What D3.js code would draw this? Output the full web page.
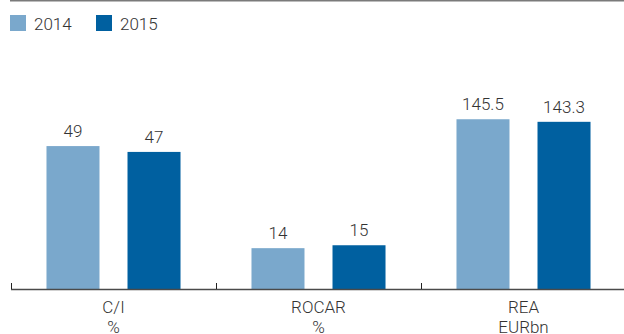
<!DOCTYPE html>
<html>
<head>
<meta charset="utf-8">
<script src="https://cdn.jsdelivr.net/npm/d3@7/dist/d3.min.js"></script>
<style>
html,body{margin:0;padding:0;background:#fff;}
svg{display:block;}
text{font-family:Roboto,"Open Sans",Arial,sans-serif;font-weight:300;fill:#333;}
</style>
</head>
<body>
<svg id="chart" width="624" height="334"></svg>
<script>
const categories = ["C/I", "ROCAR", "REA"];
const units = ["%", "%", "EURbn"];
const years = ["2014", "2015"];
const values2014 = [49, 14, 145.5];
const values2015 = [47, 15, 143.3];
const labels2014 = ["49", "14", "145.5"];
const labels2015 = ["47", "15", "143.3"];
const colors = ["#7aa8cc", "#0060a0"];

const svg = d3.select("#chart");
const W = 624, H = 334;
const baseY = 289, topY = 114;

const x0 = d3.scaleBand().domain(categories).range([11, 626]).paddingInner(0).paddingOuter(0);
const x1 = d3.scaleBand().domain(years).range([0, x0.bandwidth()]).paddingInner(28/81).paddingOuter(0.438);
const yPct = d3.scaleLinear().domain([0, 60]).range([baseY, topY]);
const yBn = d3.scaleLinear().domain([0, 150]).range([baseY, topY]);
const yFor = i => units[i] === "EURbn" ? yBn : yPct;
const color = d3.scaleOrdinal().domain(years).range(colors);

// top rule
svg.append("line").attr("x1", 10).attr("x2", W).attr("y1", 0.75).attr("y2", 0.75)
  .attr("stroke", "#7a7a7a").attr("stroke-width", 1.5);

// legend
const leg = svg.append("g");
const legX = [10, 96];
years.forEach((y, i) => {
  leg.append("rect").attr("x", legX[i]).attr("y", 15).attr("width", 16).attr("height", 16).attr("fill", color(y));
  leg.append("text").attr("x", legX[i] + 24).attr("y", 30).attr("font-size", 17).text(y);
});

// bars
const rows = categories.map((c, i) => ({c, i, vals: [values2014[i], values2015[i]], labs: [labels2014[i], labels2015[i]]}));
rows.forEach(r => {
  const g = svg.append("g").attr("transform", `translate(${x0(r.c)},0)`);
  const ys = yFor(r.i);
  years.forEach((yr, j) => {
    g.append("rect").attr("x", x1(yr)).attr("y", ys(r.vals[j])).attr("width", x1.bandwidth())
      .attr("height", baseY - ys(r.vals[j])).attr("fill", color(yr));
    g.append("text").attr("x", x1(yr) + x1.bandwidth()/2).attr("y", ys(r.vals[j]) - 9)
      .attr("text-anchor", "middle").attr("font-size", 17).text(r.labs[j]);
  });
});

// axis
const ax = svg.append("g");
ax.append("line").attr("x1", 11).attr("x2", W).attr("y1", baseY + 0.5).attr("y2", baseY + 0.5)
  .attr("stroke", "#4a4a4a").attr("stroke-width", 1.5);
categories.forEach(c => {
  ax.append("line").attr("x1", x0(c) + 0.5).attr("x2", x0(c) + 0.5).attr("y1", 283).attr("y2", baseY)
    .attr("stroke", "#222").attr("stroke-width", 1);
});
categories.forEach((c, i) => {
  const cx = x0(c) + x0.bandwidth()/2;
  ax.append("text").attr("x", cx).attr("y", 313).attr("text-anchor", "middle").attr("font-size", 17).text(c);
  ax.append("text").attr("x", cx).attr("y", 333).attr("text-anchor", "middle").attr("font-size", 17).text(units[i]);
});
</script>
</body>
</html>
